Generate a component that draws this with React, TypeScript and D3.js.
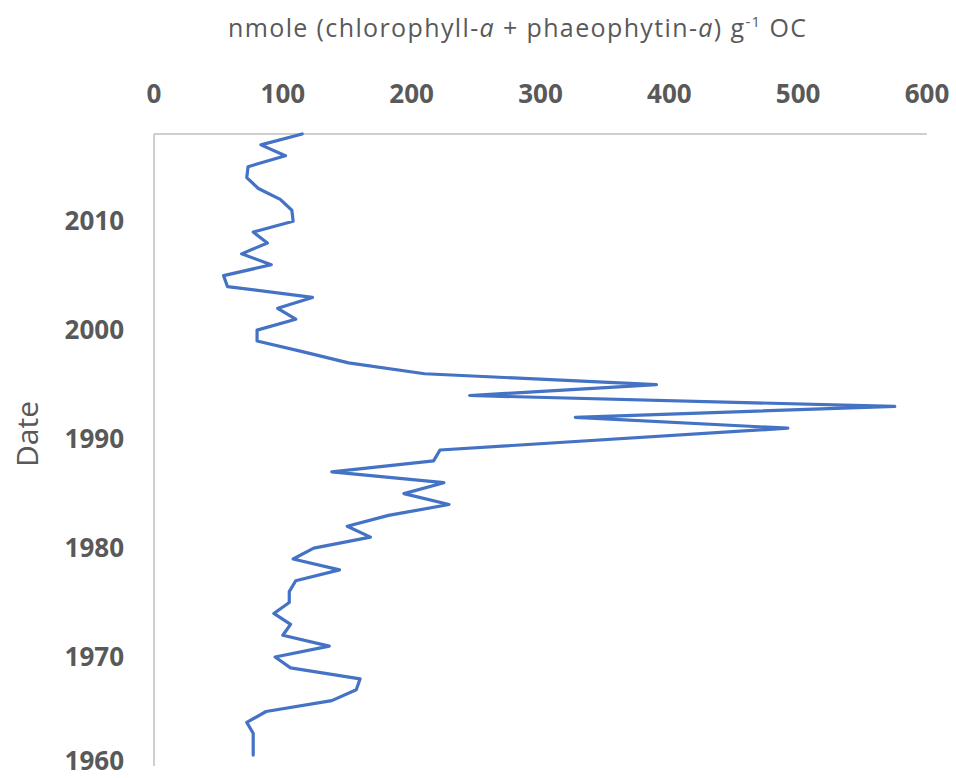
import React from "react";
import * as d3 from "d3";

const years = [
  2018, 2017, 2016, 2015, 2014, 2013, 2012, 2011, 2010, 2009, 2008, 2007, 2006, 2005, 2004, 2003, 2002, 2001, 2000,
  1999, 1998, 1997, 1996, 1995, 1994, 1993, 1992, 1991, 1989, 1988, 1987, 1986, 1985, 1984, 1983, 1982, 1981, 1980,
  1979, 1978, 1977, 1976, 1975, 1974, 1973, 1972, 1971, 1970, 1969, 1968, 1967, 1966, 1965, 1964, 1963, 1961,
];
const values = [
  115, 83, 102, 73, 72, 81, 98, 107, 108, 77, 88, 68, 91, 54, 57, 123, 96, 110, 80,
  80, 116, 151, 210, 390, 245, 575, 327, 492, 222, 217, 138, 225, 194, 229, 182, 150, 168, 124,
  108, 144, 110, 105, 105, 93, 106, 100, 136, 94, 106, 160, 157, 138, 87, 72, 77, 77,
];
const xTicks = [0, 100, 200, 300, 400, 500, 600];
const yTicks = [2010, 2000, 1990, 1980, 1970, 1960];
const xTitle = "nmole (chlorophyll-";
const yTitle = "Date";

export default function App() {
  const W = 956, H = 778;
  const left = 154, right = 927, top = 134, bottom = 766;
  const x = d3.scaleLinear().domain([0, 600]).range([left, right]);
  const y = d3.scaleLinear().domain([1960, 2018]).range([bottom, top]);
  const data = years.map((yr, i) => ({ yr, v: values[i] }));
  const line = d3.line<{ yr: number; v: number }>().x(d => x(d.v)).y(d => y(d.yr));
  const grey = "#595959";
  const font = "'Open Sans', sans-serif";
  return (
    <svg width={W} height={H} style={{ position: "absolute", left: 0, top: 0, background: "#fff" }}>
      <text x={517} y={37} textAnchor="middle" fontFamily={font} fontSize={25} fill={grey}
        textLength={578} lengthAdjust="spacing">
        {xTitle}
        <tspan fontStyle="italic">a</tspan>
        {" + phaeophytin-"}
        <tspan fontStyle="italic">a</tspan>
        {") g"}
        <tspan fontSize={15} dy={-10}>-1</tspan>
        <tspan dy={10}>{" OC"}</tspan>
      </text>
      {xTicks.map(t => (
        <text key={t} x={x(t)} y={103} textAnchor="middle" fontFamily={font} fontWeight="bold" fontSize={26} fill={grey}>
          {t}
        </text>
      ))}
      {yTicks.map(t => (
        <text key={t} x={124} y={Math.min(y(t) + 9, 770)} textAnchor="end" fontFamily={font} fontWeight="bold" fontSize={26} fill={grey}>
          {t}
        </text>
      ))}
      <text transform={`translate(38,${434}) rotate(-90)`} textAnchor="middle" fontFamily={font} fontSize={30} fill={grey}>
        {yTitle}
      </text>
      <line x1={left} x2={right} y1={top} y2={top} stroke="#bfbfbf" strokeWidth={1.5} />
      <line x1={left} x2={left} y1={top} y2={bottom} stroke="#bfbfbf" strokeWidth={1.5} />
      <path d={line(data) || ""} fill="none" stroke="#4472c4" strokeWidth={3.2} strokeLinejoin="round" strokeLinecap="round" />
    </svg>
  );
}
